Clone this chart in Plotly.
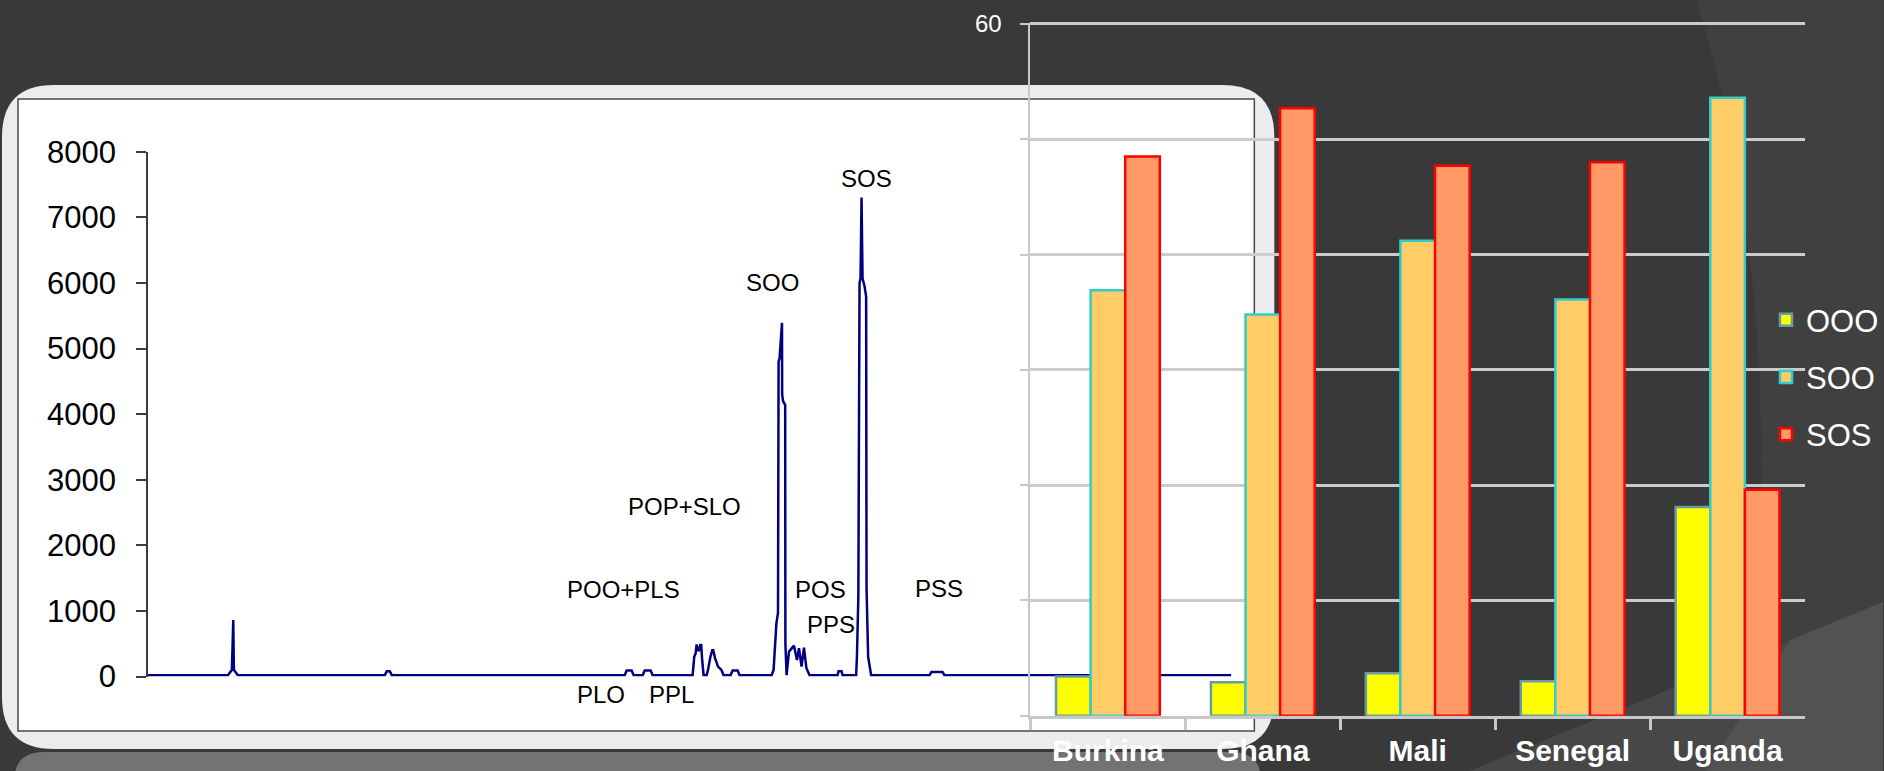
import plotly.graph_objects as go

W, H = 1884, 771

# ---------------- data ----------------
# chromatogram (retention time, detector response)
chrom_time = [0.00, 4.00, 4.10, 4.20, 4.27, 4.30, 4.40, 4.50,
              11.85, 11.95, 12.10, 12.20,
              23.85, 23.95, 24.20, 24.30,
              24.75, 24.85, 25.15, 25.25,
              27.25, 27.33, 27.40, 27.45, 27.50, 27.57, 27.63, 27.68, 27.72, 27.80,
              27.95, 28.02, 28.14, 28.23, 28.28, 28.37, 28.52, 28.69, 28.80,
              29.15, 29.25, 29.50, 29.60,
              31.20, 31.30, 31.44, 31.52, 31.55, 31.60, 31.72, 31.73, 31.77, 31.88, 31.89, 31.95,
              32.07, 32.32, 32.47, 32.57, 32.70, 32.82, 32.94, 33.10,
              34.50, 34.55, 34.70, 34.75,
              35.43, 35.47, 35.54, 35.60, 35.65, 35.70, 35.75, 35.85, 35.93, 35.95, 36.03, 36.18,
              39.10, 39.20, 39.75, 39.85,
              54.20]
chrom_signal = [20, 20, 60, 100, 860, 100, 60, 20,
                20, 80, 80, 20,
                20, 90, 90, 20,
                20, 90, 90, 20,
                20, 300, 350, 490, 400, 400, 480, 480, 280, 20,
                20, 100, 300, 400, 400, 280, 150, 100, 20,
                20, 90, 90, 20,
                20, 100, 810, 970, 4800, 4850, 5390, 4300, 4200, 4140, 510, 20,
                380, 470, 250, 430, 150, 440, 130, 20,
                20, 80, 80, 20,
                20, 300, 1220, 6000, 6070, 7300, 6070, 5950, 5790, 1350, 300, 20,
                20, 70, 70, 20,
                20]

# peak labels
peak_names = ["SOS", "SOO", "POP+SLO", "POO+PLS", "POS", "PPS", "PSS", "PLO", "PPL"]
peak_time = [35.95, 31.27, 26.82, 23.81, 33.67, 34.18, 39.56, 22.68, 26.21]
peak_level = [7584, 6010, 2588, 1329, 1329, 800, 1344, -267, -267]

# bar chart
countries = ["Burkina", "Ghana", "Mali", "Senegal", "Uganda"]
ooo = [3.4, 2.9, 3.7, 3.0, 18.1]
soo = [36.9, 34.8, 41.2, 36.1, 53.6]
sos = [48.5, 52.7, 47.7, 48.0, 19.6]

chrom_ticks = [0, 1000, 2000, 3000, 4000, 5000, 6000, 7000, 8000]
bar_ticks = [0, 10, 20, 30, 40, 50, 60]

# ---------------- helpers (pixel -> paper) ----------------
def px(x):
    return x / W

def py(y):
    return 1 - y / H

def rrect(x0, y0, x1, y1, r):
    return (f"M{px(x0 + r)},{py(y0)} L{px(x1 - r)},{py(y0)} "
            f"Q{px(x1)},{py(y0)} {px(x1)},{py(y0 + r)} "
            f"L{px(x1)},{py(y1 - r)} Q{px(x1)},{py(y1)} {px(x1 - r)},{py(y1)} "
            f"L{px(x0 + r)},{py(y1)} Q{px(x0)},{py(y1)} {px(x0)},{py(y1 - r)} "
            f"L{px(x0)},{py(y0 + r)} Q{px(x0)},{py(y0)} {px(x0 + r)},{py(y0)} Z")

def poly(pts):
    return "M" + " L".join(f"{px(x)},{py(y)}" for x, y in pts) + " Z"

FONT = "Arial, 'Liberation Sans', sans-serif"

# chromatogram y-axis geometry (pixels)
CH_TOP, CH_BOT = 151.7, 676.5
CH_PX_PER_UNIT = (CH_BOT - CH_TOP) / 8000.0

fig = go.Figure()

fig.add_trace(go.Scatter(
    x=chrom_time, y=chrom_signal, mode="lines",
    line=dict(color="#000080", width=2.5),
    xaxis="x", yaxis="y", showlegend=False, hoverinfo="skip"))

fig.add_trace(go.Bar(
    x=countries, y=ooo, name="OOO", xaxis="x2", yaxis="y2",
    marker=dict(color="#FFFF00", line=dict(color="#6A9AA8", width=2.5)),
    legendgroup="a"))
fig.add_trace(go.Bar(
    x=countries, y=soo, name="SOO", xaxis="x2", yaxis="y2",
    marker=dict(color="#FFCC66", line=dict(color="#33CCCC", width=2.5)),
    legendgroup="b"))
fig.add_trace(go.Bar(
    x=countries, y=sos, name="SOS", xaxis="x2", yaxis="y2",
    marker=dict(color="#FF9966", line=dict(color="#FF0000", width=2.5)),
    legendgroup="c"))

annotations = []
for name, t, v in zip(peak_names, peak_time, peak_level):
    anchor_v = max(v, 0)
    shift = (v - anchor_v) * CH_PX_PER_UNIT
    annotations.append(dict(
        x=t, y=anchor_v, yshift=shift, xref="x", yref="y", text=name, showarrow=False,
        xanchor="center", yanchor="middle",
        font=dict(family=FONT, size=24, color="#000000")))

shapes = [
    # lighter background region right of arc
    dict(type="path", xref="paper", yref="paper", layer="below",
         path=(f"M{px(1697)},{py(0)} Q{px(1800)},{py(330)} {px(1740)},{py(771)} "
               f"L{px(1884)},{py(771)} L{px(1884)},{py(0)} Z"),
         fillcolor="#404040", line=dict(width=0)),
    # lighter diagonal band bottom right
    dict(type="path", xref="paper", yref="paper", layer="below",
         path=poly([(1470, 771), (1884, 602), (1884, 771)]),
         fillcolor="#474747", line=dict(width=0)),
    dict(type="path", xref="paper", yref="paper", layer="below",
         path=poly([(1707, 771), (1791, 640), (1884, 602), (1884, 771)]),
         fillcolor="#525252", line=dict(width=0)),
    # reflection strip under panel
    dict(type="path", xref="paper", yref="paper", layer="below",
         path=rrect(14, 752, 1262, 800, 30),
         fillcolor="#737373", line=dict(width=0)),
    # outer rounded panel
    dict(type="path", xref="paper", yref="paper", layer="below",
         path=rrect(2, 85, 1275, 749, 52),
         fillcolor="#ECECEC", line=dict(width=0)),
    # inner white picture frame
    dict(type="rect", xref="paper", yref="paper", layer="below",
         x0=px(18), x1=px(1255), y0=py(731), y1=py(99),
         fillcolor="#FFFFFF", line=dict(color="#4A4A4A", width=1.5)),
]

fig.update_layout(
    width=W, height=H, autosize=False,
    margin=dict(l=0, r=0, t=0, b=0, pad=0),
    paper_bgcolor="#393939", plot_bgcolor="rgba(0,0,0,0)",
    barmode="group", bargap=0.33, bargroupgap=0,
    showlegend=True,
    legend=dict(x=px(1767), xanchor="left", y=py(293), yanchor="top",
                bgcolor="rgba(0,0,0,0)", font=dict(family=FONT, size=31, color="#FFFFFF"),
                tracegroupgap=14, traceorder="grouped"),
    xaxis=dict(domain=[px(148), px(1232)], range=[0, 54.2], visible=False, anchor="y",
               automargin=False),
    yaxis=dict(domain=[py(CH_BOT), py(CH_TOP)], range=[0, 8000], anchor="x",
               tickvals=chrom_ticks, ticks="outside", ticklen=10, tickwidth=1.5,
               tickcolor="#3C3C3C", showline=True, linecolor="#3C3C3C", linewidth=1.5,
               showgrid=False, zeroline=False, ticklabelstandoff=14, automargin=False,
               tickfont=dict(family=FONT, size=31, color="#000000")),
    xaxis2=dict(domain=[px(1031), px(1806)], anchor="y2", type="category",
                tickson="boundaries", ticks="outside", ticklen=11, tickwidth=2.5,
                tickcolor="#C8C8C8", showline=True, linecolor="#C8C8C8", linewidth=3,
                showgrid=False, ticklabelstandoff=6, automargin=False,
                tickfont=dict(family=FONT, size=30, color="#FFFFFF", weight="bold")),
    yaxis2=dict(domain=[py(715.8), py(22.8)], range=[0, 60.1], anchor="x2",
                tickvals=bar_ticks, ticks="outside", ticklen=8, tickwidth=2,
                tickcolor="#C8C8C8", showline=True, linecolor="#C8C8C8", linewidth=2,
                showgrid=True, gridcolor="#CCCCCC", gridwidth=3, zeroline=False,
                ticklabelstandoff=14, automargin=False,
                tickfont=dict(family=FONT, size=24, color="#FFFFFF")),
    annotations=annotations,
    shapes=shapes,
)

fig.write_html("out.html", config={"displayModeBar": False},
               post_script="document.body.style.margin='0';document.body.style.overflow='hidden';")
